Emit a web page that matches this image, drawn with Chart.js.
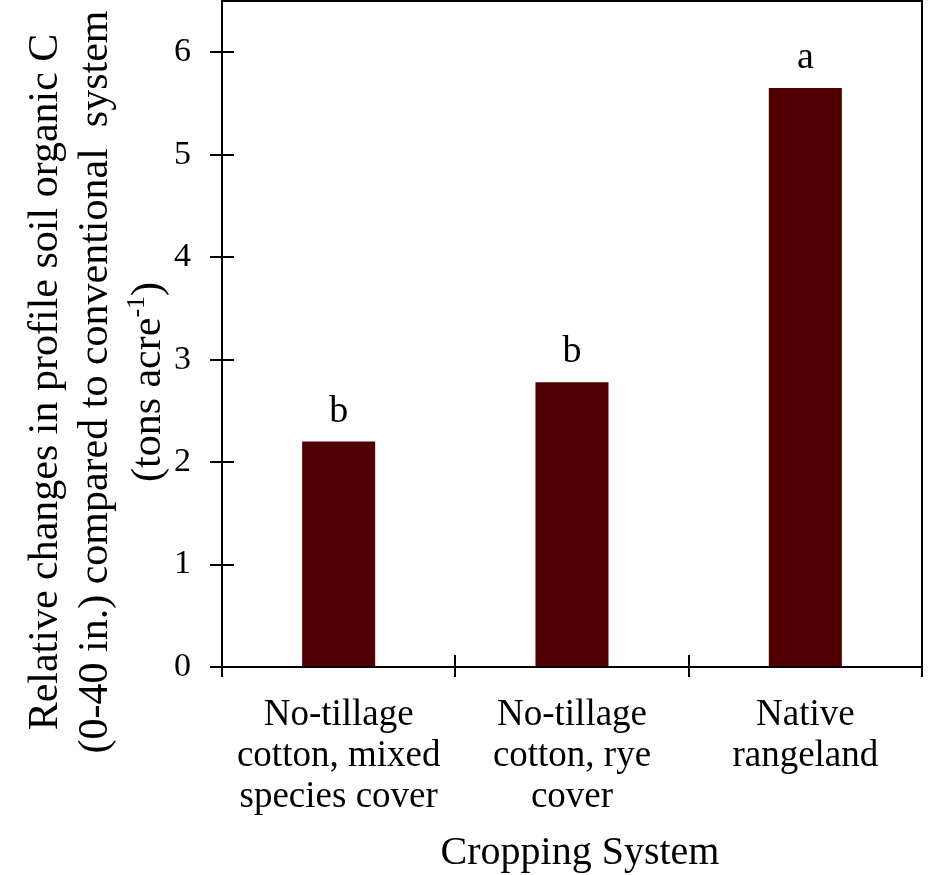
<!DOCTYPE html>
<html>
<head>
<meta charset="utf-8">
<script src="https://cdn.jsdelivr.net/npm/chart.js@4"></script>
<style>
  html, body { margin: 0; padding: 0; background: #fff; }
  #wrap { width: 937px; height: 875px; }
</style>
</head>
<body>
<div id="wrap"><canvas id="chart" width="937" height="875"></canvas></div>
<script>
// Cropping systems (multi-line category labels)
const categories = [
  ["No-tillage", "cotton, mixed", "species cover"],
  ["No-tillage", "cotton, rye", "cover"],
  ["Native", "rangeland"]
];
// Relative change in profile SOC vs. conventional system (tons/acre)
const carbonChange = [2.20, 2.78, 5.65];
// Mean separation letters
const groupLetters = ["b", "b", "a"];
// Y axis tick values
const yTicks = [0, 1, 2, 3, 4, 5, 6];
const yTitleLines = [
  "Relative changes in profile soil organic C",
  "(0-40 in.) compared to conventional  system"
];
const yUnitsText = "(tons acre";
const yUnitsSup = "-1";
const xTitle = "Cropping System";

const SERIF = "'Liberation Serif', 'Times New Roman', Times, serif";
const INK = "#000";
const BAR = "#500000";

const decorations = {
  id: "decorations",
  afterDraw(chart) {
    const ctx = chart.ctx;
    const area = chart.chartArea;
    const xs = chart.scales.x, ys = chart.scales.y;
    ctx.save();
    ctx.strokeStyle = INK;
    ctx.lineWidth = 2;
    // top and right frame
    ctx.beginPath();
    ctx.moveTo(area.left, area.top);
    ctx.lineTo(area.right, area.top);
    ctx.lineTo(area.right, area.bottom);
    ctx.stroke();
    // inner half of the y ticks
    ctx.beginPath();
    yTicks.forEach(v => {
      const py = Math.round(ys.getPixelForValue(v));
      ctx.moveTo(area.left, py);
      ctx.lineTo(area.left + 12, py);
    });
    // inner half of the x ticks at category boundaries
    for (let i = 0; i <= categories.length; i++) {
      const px = Math.round(xs.getPixelForValue(i - 0.5));
      ctx.moveTo(px, area.bottom);
      ctx.lineTo(px, area.bottom - 12);
    }
    ctx.stroke();

    // letters above the bars
    ctx.fillStyle = INK;
    ctx.font = "38px " + SERIF;
    ctx.textAlign = "center";
    ctx.textBaseline = "alphabetic";
    chart.getDatasetMeta(0).data.forEach((bar, i) => {
      ctx.fillText(groupLetters[i], bar.x, bar.y - 20);
    });

    // rotated y-axis title
    const cy = 382;
    const baselines = [57, 107, 160];
    const mainFont = "42px " + SERIF, supFont = "26px " + SERIF;
    ctx.font = mainFont;
    ctx.textAlign = "center";
    yTitleLines.forEach((line, i) => {
      ctx.save();
      ctx.translate(baselines[i], cy);
      ctx.rotate(-Math.PI / 2);
      ctx.fillText(line, 0, 0);
      ctx.restore();
    });
    // units line with superscript
    ctx.save();
    ctx.translate(baselines[2], cy);
    ctx.rotate(-Math.PI / 2);
    ctx.font = mainFont;
    const w1 = ctx.measureText(yUnitsText).width;
    const w3 = ctx.measureText(")").width;
    ctx.font = supFont;
    const w2 = ctx.measureText(yUnitsSup).width;
    const x0 = -(w1 + w2 + w3) / 2;
    ctx.textAlign = "left";
    ctx.font = mainFont;
    ctx.fillText(yUnitsText, x0, 0);
    ctx.font = supFont;
    ctx.fillText(yUnitsSup, x0 + w1, -16);
    ctx.font = mainFont;
    ctx.fillText(")", x0 + w1 + w2, 0);
    ctx.restore();

    // x-axis title
    ctx.font = "40px " + SERIF;
    ctx.textAlign = "center";
    ctx.textBaseline = "alphabetic";
    ctx.fillText(xTitle, (area.left + area.right) / 2 + 8, 864);
    ctx.restore();
  }
};

new Chart(document.getElementById("chart"), {
  type: "bar",
  data: {
    labels: categories,
    datasets: [{
      data: carbonChange,
      backgroundColor: BAR,
      borderWidth: 0,
      categoryPercentage: 1,
      barPercentage: 0.313
    }]
  },
  options: {
    responsive: false,
    animation: false,
    devicePixelRatio: 1,
    layout: { padding: { top: 1, right: 15, left: 0, bottom: 0 } },
    plugins: { legend: { display: false }, tooltip: { enabled: false } },
    scales: {
      x: {
        offset: true,
        grid: { offset: true, drawOnChartArea: false, drawTicks: true, tickLength: 10, color: INK, lineWidth: 2 },
        border: { display: true, color: INK, width: 2 },
        ticks: {
          color: INK, font: { family: SERIF, size: 37, lineHeight: 1.11 },
          padding: 18, maxRotation: 0, autoSkip: false
        },
        afterFit(scale) {
          scale.height = 208;
          scale.paddingLeft = 0;
          scale.paddingRight = 0;
        }
      },
      y: {
        min: 0, max: 6.5,
        afterBuildTicks(scale) {
          scale.ticks = yTicks.map(v => ({ value: v }));
        },
        grid: { drawOnChartArea: false, drawTicks: true, tickLength: 12, color: INK, lineWidth: 2 },
        border: { display: true, color: INK, width: 2 },
        ticks: { color: INK, font: { family: SERIF, size: 34 }, padding: 19 },
        afterFit(scale) {
          scale.width = 222;
          scale.paddingTop = 0;
          scale.paddingBottom = 0;
        }
      }
    }
  },
  plugins: [decorations]
});
</script>
</body>
</html>
